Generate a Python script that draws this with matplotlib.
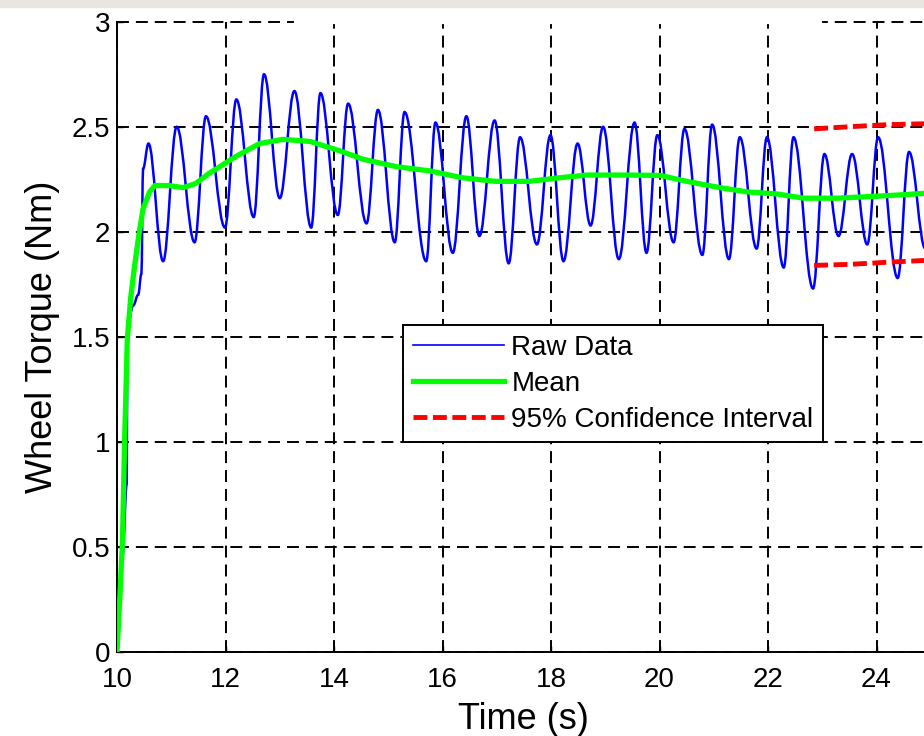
import matplotlib
matplotlib.use("Agg")
import matplotlib.pyplot as plt
from matplotlib.patches import Rectangle, PathPatch
from matplotlib.path import Path

# ---------------- data ----------------
# raw data: successive turning points (time, torque) of the measured signal
raw_t = [10.0, 10.1, 10.18, 10.19, 10.3, 10.39, 10.45, 10.48,
         10.58, 10.85, 11.10, 11.43, 11.64, 11.99, 12.20, 12.52,
         12.71, 13.00, 13.27, 13.58, 13.75, 14.07, 14.26, 14.60,
         14.81, 15.12, 15.30, 15.70, 15.87, 16.19, 16.44, 16.68,
         16.96, 17.22, 17.43, 17.74, 17.99, 18.23, 18.49, 18.73,
         18.96, 19.25, 19.54, 19.76, 19.96, 20.26, 20.46, 20.79,
         20.97, 21.28, 21.48, 21.79, 21.98, 22.29, 22.47, 22.83,
         23.04, 23.30, 23.55, 23.83, 24.03, 24.39, 24.60, 24.90]
raw_y = [0.0, 0.45, 0.80, 1.55, 1.65, 1.70, 1.80, 2.30,
         2.42, 1.86, 2.50, 1.95, 2.55, 2.02, 2.63, 2.07,
         2.75, 2.16, 2.67, 2.02, 2.66, 2.08, 2.61, 2.04,
         2.58, 1.95, 2.57, 1.86, 2.52, 1.90, 2.55, 1.98,
         2.53, 1.85, 2.45, 1.94, 2.46, 1.86, 2.42, 2.03,
         2.50, 1.87, 2.52, 1.90, 2.46, 1.95, 2.49, 1.89,
         2.51, 1.87, 2.45, 1.92, 2.45, 1.83, 2.45, 1.73,
         2.37, 1.98, 2.37, 1.94, 2.45, 1.78, 2.38, 1.92]

mean_t = [10.0, 10.05, 10.10, 10.14, 10.19, 10.25, 10.32, 10.40, 10.48, 10.60,
          10.70, 10.96, 11.22, 11.45, 11.71, 12.2, 12.63, 13.06, 13.56, 14.11,
          14.54, 15.15, 15.76, 16.37, 16.98, 17.6, 18.15, 18.66, 19.46, 20.02,
          20.5, 21.12, 21.61, 22.17, 22.66, 23.27, 23.89, 24.4, 25.0]
mean_y = [0.0, 0.25, 0.52, 1.0, 1.49, 1.68, 1.83, 1.98, 2.11, 2.19,
          2.22, 2.22, 2.21, 2.23, 2.28, 2.36, 2.42, 2.44, 2.43, 2.385,
          2.345, 2.31, 2.29, 2.257, 2.24, 2.24, 2.257, 2.27, 2.27, 2.268,
          2.24, 2.21, 2.19, 2.18, 2.16, 2.16, 2.168, 2.175, 2.185]

ci_t = [22.85, 23.5, 24.2, 25.0]
ci_upper = [2.49, 2.50, 2.51, 2.515]
ci_lower = [1.84, 1.845, 1.855, 1.865]

x_ticks = [10, 12, 14, 16, 18, 20, 22, 24]
y_ticks = [0, 0.5, 1, 1.5, 2, 2.5, 3]
y_tick_labels = ["0", "0.5", "1", "1.5", "2", "2.5", "3"]
legend_labels = ["Raw Data", "Mean", "95% Confidence Interval"]

RAW_COLOR = '#0000ff'
MEAN_COLOR = '#00ff00'
CI_COLOR = '#ff0000'

# ---------------- figure ----------------
plt.rcParams['font.family'] = ['Liberation Sans', 'DejaVu Sans']
plt.rcParams['lines.scale_dashes'] = False

fig = plt.figure(figsize=(9.24, 7.36), dpi=100)
fig.patches.append(Rectangle((0, 1 - 7 / 736), 1, 7 / 736,
                             transform=fig.transFigure, color='#e9e6e1', zorder=0))

ax = fig.add_axes([117 / 924, 84 / 736, 0.8807, 0.8564])

# raw signal: smooth curve through the turning points (flat at each turning point)
verts = [(raw_t[0], raw_y[0])]
codes = [Path.MOVETO]
k = 0.38
for i in range(1, len(raw_t)):
    t0, y0 = raw_t[i - 1], raw_y[i - 1]
    t1, y1 = raw_t[i], raw_y[i]
    dt = t1 - t0
    verts += [(t0 + k * dt, y0), (t1 - k * dt, y1), (t1, y1)]
    codes += [Path.CURVE4, Path.CURVE4, Path.CURVE4]
raw_patch = PathPatch(Path(verts, codes), facecolor='none', edgecolor=RAW_COLOR,
                      lw=1.8, zorder=3, transform=ax.transData)
ax.add_patch(raw_patch)
l1, = ax.plot([], [], color=RAW_COLOR, lw=1.2)

l2, = ax.plot(mean_t, mean_y, color=MEAN_COLOR, lw=3.8, zorder=4)
l3, = ax.plot(ci_t, ci_upper, color=CI_COLOR, lw=3.5, dashes=(10, 4), zorder=5)
ax.plot(ci_t, ci_lower, color=CI_COLOR, lw=3.5, dashes=(10, 4), zorder=5)

ax.set_xlim(10, 25)
ax.set_ylim(0, 3)
ax.set_xticks(x_ticks)
ax.set_yticks(y_ticks)
ax.set_yticklabels(y_tick_labels)

ax.grid(True, color='black', lw=1.4, linestyle=(0, (8.6, 5)), zorder=1)
ax.set_axisbelow(True)
for gl in ax.yaxis.get_gridlines():
    gl.set_clip_on(False)

ax.spines['top'].set_visible(False)
for s in ['left', 'bottom', 'right']:
    ax.spines[s].set_linewidth(1.4)

ax.tick_params(direction='in', length=4, width=1, labelsize=20)
ax.tick_params(axis='x', pad=11)
ax.tick_params(axis='y', pad=5)

# gap in the top border line, as in the reference
ax.plot([13.3, 22.96], [3, 3], color='white', lw=3, clip_on=False, zorder=2)

ax.set_xlabel("Time (s)", fontsize=26, labelpad=6)
ax.set_ylabel("Wheel Torque (Nm)", fontsize=26, labelpad=8)

leg = ax.legend([l1, l2, l3], legend_labels, loc='upper left',
                bbox_to_anchor=(0.3514, 0.5188), fontsize=20,
                frameon=True, fancybox=False, framealpha=1,
                edgecolor='black', borderpad=0.35, handlelength=3.3,
                handletextpad=0.25, labelspacing=0.36, borderaxespad=0)
leg.get_frame().set_linewidth(1.4)
leg.set_zorder(10)

fig.savefig("out.png", dpi=100)
